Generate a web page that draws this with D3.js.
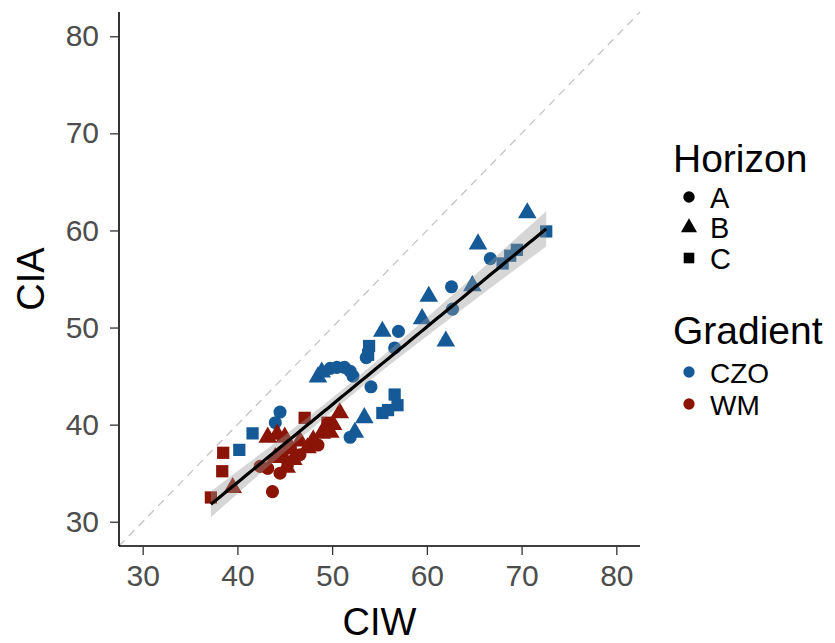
<!DOCTYPE html>
<html>
<head>
<meta charset="utf-8">
<script src="https://cdn.jsdelivr.net/npm/d3@7"></script>
<style>
  body { margin: 0; background: #fff; }
  text { font-family: "Liberation Sans", Arial, sans-serif; }
</style>
</head>
<body>
<div id="chart"></div>
<script>
// CIW / CIA values
const czoCIW = [70.6, 72.6, 69.5, 68.8, 68.0, 66.7, 65.4, 62.6, 64.8, 62.7, 60.2, 59.5, 62.0, 57.0, 56.6, 55.3, 53.9, 53.8, 53.6,
  48.5, 48.9, 49.8, 50.5, 51.3, 51.9, 52.2, 54.1, 56.6, 56.9, 55.3, 55.9, 53.4, 52.4, 51.9, 44.5, 44.0, 41.6, 40.2];
const czoCIA = [61.8, 59.9, 58.0, 57.4, 56.6, 57.1, 58.6, 54.2, 54.3, 51.9, 53.2, 50.9, 48.6, 49.6, 47.9, 49.6, 48.1, 47.2, 46.9,
  44.9, 45.4, 45.8, 45.9, 45.9, 45.5, 45.0, 43.9, 43.1, 42.0, 41.2, 41.5, 40.7, 39.2, 38.7, 41.3, 40.2, 39.1, 37.4];
const czoHorizon = ['B', 'C', 'C', 'C', 'C', 'A', 'B', 'A', 'B', 'A', 'B', 'B', 'B', 'A', 'A', 'B', 'C', 'C', 'A',
  'B', 'B', 'A', 'A', 'A', 'A', 'A', 'A', 'C', 'C', 'C', 'C', 'B', 'B', 'A', 'A', 'A', 'C', 'C'];

const wmCIW = [37.2, 38.4, 38.5, 39.5, 43.7, 42.4, 43.2, 44.2, 45.0, 47.1, 50.8, 49.5, 50.1, 48.9, 48.0, 47.4, 46.6, 45.9,
  45.2, 44.5, 43.2, 44.0, 45.6, 46.6, 44.8, 49.8, 48.5, 45.3];
const wmCIA = [32.5, 35.2, 37.1, 33.5, 33.1, 35.7, 38.7, 39.0, 38.7, 40.7, 41.2, 40.2, 40.0, 39.1, 38.4, 37.6, 36.9, 36.4,
  35.6, 35.0, 35.5, 36.6, 37.6, 38.3, 37.2, 39.2, 37.9, 36.2];
const wmHorizon = ['C', 'C', 'C', 'B', 'A', 'A', 'B', 'B', 'B', 'C', 'B', 'C', 'B', 'B', 'B', 'B', 'A', 'B',
  'B', 'A', 'A', 'B', 'A', 'B', 'A', 'B', 'A', 'C'];

const xTicks = [30, 40, 50, 60, 70, 80];
const yTicks = [30, 40, 50, 60, 70, 80];
const horizons = ['A', 'B', 'C'];
const gradients = ['CZO', 'WM'];

const width = 835, height = 643;
const margin = { left: 119, right: 195, top: 12, bottom: 97 };

const svg = d3.select('#chart').append('svg')
  .attr('width', width)
  .attr('height', height);

const x = d3.scaleLinear().domain([27.5, 82.5]).range([margin.left, width - margin.right]);
const y = d3.scaleLinear().domain([27.5, 82.5]).range([height - margin.bottom, margin.top]);

const colour = d3.scaleOrdinal().domain(gradients).range(['#155a96', '#8a1406']);
const shape = d3.scaleOrdinal().domain(horizons).range([d3.symbolCircle, d3.symbolTriangle, d3.symbolSquare]);
const shapeSize = { A: 135, B: 150, C: 150 };

const points = [];
czoCIW.forEach((v, i) => points.push({ ciw: v, cia: czoCIA[i], horizon: czoHorizon[i], gradient: 'CZO' }));
wmCIW.forEach((v, i) => points.push({ ciw: v, cia: wmCIA[i], horizon: wmHorizon[i], gradient: 'WM' }));

// 1:1 reference line
svg.append('line')
  .attr('x1', x(27.5)).attr('y1', y(27.5))
  .attr('x2', x(82.5)).attr('y2', y(82.5))
  .attr('stroke', '#c4c4c4')
  .attr('stroke-width', 1.3)
  .attr('stroke-dasharray', '8,6');

// points
svg.append('g').selectAll('path')
  .data(points)
  .join('path')
  .attr('transform', d => `translate(${x(d.ciw)},${y(d.cia)})`)
  .attr('d', d => d3.symbol().type(shape(d.horizon)).size(shapeSize[d.horizon])())
  .attr('fill', d => colour(d.gradient));

// linear fit with 95% band
const n = points.length;
const mx = d3.mean(points, d => d.ciw), my = d3.mean(points, d => d.cia);
const sxx = d3.sum(points, d => (d.ciw - mx) ** 2);
const slope = d3.sum(points, d => (d.ciw - mx) * (d.cia - my)) / sxx;
const icpt = my - slope * mx;
const sse = d3.sum(points, d => (d.cia - (icpt + slope * d.ciw)) ** 2);
const se = Math.sqrt(sse / (n - 2));
const tval = 1.99;
const [xmin, xmax] = d3.extent(points, d => d.ciw);
const fit = d3.range(0, 81).map(i => {
  const xv = xmin + (xmax - xmin) * i / 80;
  const yv = icpt + slope * xv;
  const w = tval * se * Math.sqrt(1 / n + (xv - mx) ** 2 / sxx);
  return { x: xv, y: yv, lo: yv - w, hi: yv + w };
});

svg.append('path')
  .datum(fit)
  .attr('d', d3.area().x(d => x(d.x)).y0(d => y(d.lo)).y1(d => y(d.hi)))
  .attr('fill', '#999')
  .attr('fill-opacity', 0.4);

svg.append('path')
  .datum(fit)
  .attr('d', d3.line().x(d => x(d.x)).y(d => y(d.y)))
  .attr('fill', 'none')
  .attr('stroke', '#000')
  .attr('stroke-width', 3.2);

// axes
const xAxis = svg.append('g')
  .attr('transform', `translate(0,${height - margin.bottom})`)
  .call(d3.axisBottom(x).tickValues(xTicks).tickSize(9).tickPadding(10));
const yAxis = svg.append('g')
  .attr('transform', `translate(${margin.left},0)`)
  .call(d3.axisLeft(y).tickValues(yTicks).tickSize(9).tickPadding(11));

[xAxis, yAxis].forEach(a => {
  a.select('.domain').attr('stroke', '#000').attr('stroke-width', 1.6);
  a.selectAll('.tick line').attr('stroke', '#333').attr('stroke-width', 1.3);
  a.selectAll('.tick text')
    .attr('fill', '#4d4d4d')
    .attr('font-size', 30)
    .attr('font-family', '"Liberation Sans", Arial, sans-serif');
});
xAxis.select('.domain').attr('d', `M${x(27.5)},0H${x(82.5)}`);
yAxis.select('.domain').attr('d', `M0,${y(27.5)}V${y(82.5)}`);

svg.append('text')
  .attr('x', x(55)).attr('y', 635)
  .attr('text-anchor', 'middle')
  .attr('font-size', 38)
  .text('CIW');

svg.append('text')
  .attr('transform', `translate(44,${y(55)}) rotate(-90)`)
  .attr('text-anchor', 'middle')
  .attr('font-size', 38)
  .text('CIA');

// legends
const lg = svg.append('g').attr('transform', 'translate(673,0)');
lg.append('text').attr('x', 0).attr('y', 172).attr('font-size', 39).text('Horizon');
horizons.forEach((h, i) => {
  const cy = 197 + i * 30.5;
  lg.append('path')
    .attr('transform', `translate(16,${cy})`)
    .attr('d', d3.symbol().type(shape(h)).size(shapeSize[h] * 0.75)())
    .attr('fill', '#000');
  lg.append('text').attr('x', 37).attr('y', cy + 10.5).attr('font-size', 29).text(h);
});

lg.append('text').attr('x', 0).attr('y', 344).attr('font-size', 39).text('Gradient');
gradients.forEach((g, i) => {
  const cy = 372 + i * 32;
  lg.append('path')
    .attr('transform', `translate(16,${cy})`)
    .attr('d', d3.symbol().type(d3.symbolCircle).size(100)())
    .attr('fill', colour(g));
  lg.append('text').attr('x', 37).attr('y', cy + 10.5).attr('font-size', 28).text(g);
});
</script>
</body>
</html>
